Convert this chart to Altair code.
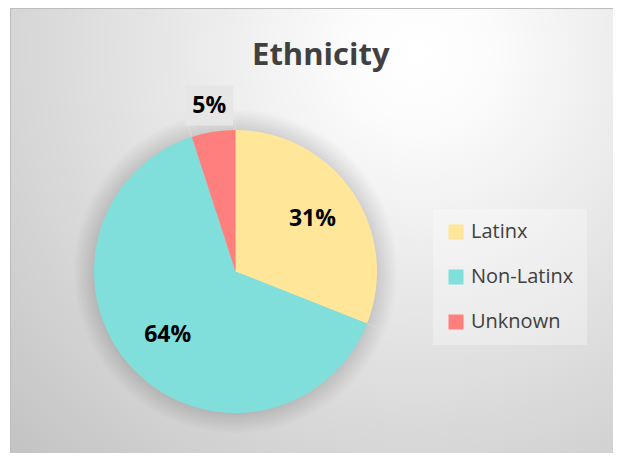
import altair as alt
import pandas as pd

# ---- data ----
categories = ["Latinx", "Non-Latinx", "Unknown"]
values = [31, 64, 5]
labels = ["31%", "64%", "5%"]
slice_order = [0, 1, 2]
colors = ["#FFE699", "#80DEDB", "#FF7F7F"]
title_text = "Ethnicity"

df = pd.DataFrame({"category": categories, "value": values,
                   "label": labels, "order": slice_order})

W, H = 605, 445
CX, CY = 227.5, 263.5          # pie centre inside the view
R = 141.5                      # pie radius
R_IN = 93                      # radius of inside labels
R_OUT = 168                    # radius of outside labels
FONT = "Open Sans"

base = alt.Chart(df)
theta = alt.Theta("value:Q", stack=True)
order = alt.Order("order:Q", sort="ascending")
cx, cy = alt.value(CX), alt.value(CY)

# chart-area background with radial gradient and border
bg = alt.Chart(pd.DataFrame({"a": [0]})).mark_rect(
    fill=alt.Gradient(
        gradient="radial",
        stops=[alt.GradientStop(color="#ffffff", offset=0),
               alt.GradientStop(color="#fcfcfc", offset=0.12),
               alt.GradientStop(color="#c4c4c4", offset=1)],
        x1=0.64, y1=0.2, r1=0, x2=0.64, y2=0.2, r2=0.88),
    stroke="#bdbdbd", strokeWidth=1,
).encode(x=alt.value(2.5), x2=alt.value(640), y=alt.value(0.5), y2=alt.value(470))

# soft shadow around the pie
shadows = [
    base.mark_arc(radius=R + 2 * i, color="black", fillOpacity=0.011, stroke=None)
    .encode(theta=theta, order=order, x=cx, y=cy)
    for i in range(1, 11)
]

pie = base.mark_arc(radius=R, stroke=None).encode(
    theta=theta, order=order, x=cx, y=cy,
    color=alt.Color(
        "category:N",
        scale=alt.Scale(domain=categories, range=colors),
        legend=alt.Legend(
            title=None, orient="none", legendX=425, legendY=201,
            fillColor="rgba(255,255,255,0.3)", padding=13,
            symbolType="square", symbolSize=225, symbolStrokeWidth=0,
            symbolOpacity=1, labelFont=FONT, labelFontSize=20,
            labelColor="#404040", labelOffset=5, rowPadding=25,
        ),
    ),
)

inner = base.mark_text(radius=R_IN, font=FONT, fontSize=23, fontWeight="bold",
                       color="black", align="center", baseline="middle").encode(
    theta=theta, order=order, x=cx, y=cy,
    text=alt.condition("datum.value >= 10", "label:N", alt.value("")),
)

box = base.transform_joinaggregate(total="sum(value)").transform_window(
    cum="sum(value)", sort=[alt.SortField("order")], frame=[None, 0]
).transform_calculate(
    ang="2*PI*(datum.cum - datum.value/2)/datum.total",
    bx=f"{CX} + {R_OUT}*sin(datum.ang)",
    by=f"{CY} - {R_OUT}*cos(datum.ang)",
).transform_filter("datum.value < 10").mark_point(
    shape="M-1.2,-1L1.2,-1L1.2,1L-1.2,1Z", size=1600, filled=True,
    color="#e6e6e6", opacity=1, strokeWidth=0,
).encode(
    x=alt.X("bx:Q", scale=None, axis=None),
    y=alt.Y("by:Q", scale=None, axis=None),
)

outer = base.mark_text(radius=R_OUT, font=FONT, fontSize=23, fontWeight="bold",
                       color="black", align="center", baseline="middle").encode(
    theta=theta, order=order, x=cx, y=cy,
    text=alt.condition("datum.value < 10", "label:N", alt.value("")),
)

title = alt.Chart(pd.DataFrame({"t": [title_text]})).mark_text(
    font=FONT, fontSize=31, fontWeight="bold", color="#404040",
    align="center", baseline="alphabetic",
).encode(text="t:N", x=alt.value(312.8), y=alt.value(57))

chart = alt.layer(bg, *shadows, pie, inner, box, outer, title).properties(
    width=W, height=H, padding=0, autosize="none",
).configure_view(stroke=None)

chart.save("out.html", embed_options={"renderer": "svg", "actions": False})
